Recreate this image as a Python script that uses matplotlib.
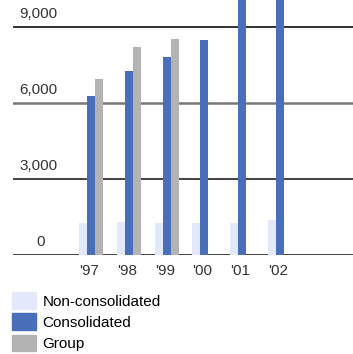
import numpy as np
import matplotlib
matplotlib.use('Agg')
import matplotlib.pyplot as plt
from matplotlib.patches import Patch

plt.rcParams['font.family'] = ['Liberation Sans Narrow', 'Liberation Sans', 'DejaVu Sans']

# data
years = ["'97", "'98", "'99", "'00", "'01", "'02"]
non_consolidated = [1260, 1300, 1260, 1260, 1260, 1365]
consolidated = [6270, 7260, 7810, 8490, 11500, 11500]
group = [6940, 8210, 8530, np.nan, np.nan, np.nan]
yticks = [0, 3000, 6000, 9000]
ytick_labels = ['0', '3,000', '6,000', '9,000']

c_non = '#e4e8fb'
c_con = '#4a6fba'
c_grp = '#b3b3b3'

W, H = 353, 354
fig = plt.figure(figsize=(W / 100, H / 100), dpi=100)
# axes: x from 13px to 353px, y from top (0px) down to 254.5px
ax = fig.add_axes([13 / W, (H - 254.5) / H, 340 / W, 254.5 / H])

step = 37.8
x = np.arange(len(years))
bw = 8 / step
ax.bar(x - bw, non_consolidated, bw, color=c_non, align='center')
ax.bar(x, consolidated, bw, color=c_con, align='center')
ax.bar(x + bw, group, bw, color=c_grp, align='center')

ax.set_xlim(-(91 - 13) / step, (353 - 91) / step)
ax.set_ylim(0, 10070)

line_colors = ['#333333', '#333333', '#777777', '#111111']
line_widths = [1.3, 1.3, 1.8, 1.2]
for yv, col, lw in zip(yticks, line_colors, line_widths):
    ax.axhline(yv, color=col, lw=lw, zorder=0.5)

for sp in ax.spines.values():
    sp.set_visible(False)
ax.set_xticks([])
ax.set_yticks([])

# y labels sit above the gridlines
for yv, lab in zip(yticks, ytick_labels):
    if yv == 0:
        ax.text(-(91 - 41) / step, yv + 220, lab, ha='center', va='bottom',
                fontsize=11, color='#333333')
    else:
        ax.text(-(91 - 19) / step, yv + 220, lab, ha='left', va='bottom',
                fontsize=11, color='#333333')

# x labels under consolidated bars
for xi, lab in zip(x, years):
    ax.text(xi - 0.05, -390, lab, ha='center', va='top', fontsize=11,
            color='#333333', clip_on=False)

handles = [Patch(color=c_non, label='Non-consolidated'),
           Patch(color=c_con, label='Consolidated'),
           Patch(color=c_grp, label='Group')]
fig.legend(handles=handles, loc='upper left', bbox_to_anchor=(9 / W, 1 - 289 / H),
           frameon=False, fontsize=11, handlelength=1.55, handleheight=1.3,
           handletextpad=0.45, labelspacing=0.3, borderaxespad=0, borderpad=0.2)

fig.savefig('out.png', dpi=100)
